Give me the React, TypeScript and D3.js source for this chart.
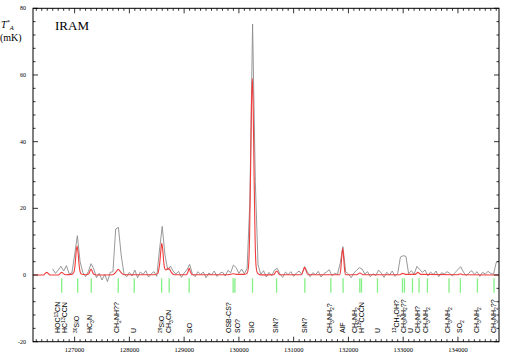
import * as d3 from "d3";

// observed spectrum (mK), one channel every 50 MHz from 126600 MHz
const grayStart = 126600;
const grayStep = 50;
const grayValues = [
  1.8, 0.5, 1.5, 2.6, 1.2, 2.8, 0.4, 0.6,
  6.0, 11.8, 4.0, 0.8, -0.5, 1.0, 3.4, 1.8, -0.8, 0.5, -1.5, 0.2, -2.0, 0.8, 1.0, 13.8, 14.3, 6.0, 0.5, -0.5,
  0.8, -0.3, 1.5, -0.8, 0.9, 0.2, 1.3, -0.6, 0.4, 1.0, -0.4, 7.5, 14.6, 6.0, 1.5, 2.7, 1.2, 0.3, 1.1, -0.7,
  0.6, 1.5, 3.2, 0.4, -0.5, 1.0, 0.2, 0.9, -0.8, 0.6, 0.1, 1.2, -0.4, 0.5, 0.9, -0.3, 1.4, 0.7, 3.0, 2.2,
  0.5, 1.8, 0.4, 2.0, 22.0, 75.3, 28.0, 3.0, 0.2, 1.3, -0.6, 0.8, -0.2, 1.5, 2.0, 0.3, -0.7, 0.9, 0.1, 1.0,
  -0.4, 0.6, 1.2, 0.2, 2.5, 1.0, -0.5, 0.7, 0.1, 1.1, -0.6, 0.4, 0.9, 1.6, -0.2, 0.5, 0.2, 3.5, 8.5, 1.0,
  0.3, -0.8, 0.6, 1.4, 2.2, 1.8, 0.3, 1.0, -0.5, 0.4, -0.2, 1.5, 0.6, -0.7, 0.8, 0.0, 1.2, -0.4, 0.5, 5.4,
  5.8, 5.6, 0.4, 1.3, 0.2, 2.6, 1.7, 0.8, 1.5, -0.3, 0.9, 0.1, 1.2, -0.5, 0.7, 0.3, 1.0, 0.5, -0.3, 0.8,
  1.6, 2.5, 0.9, -0.2, 0.6, 1.3, 0.2, 1.0, -0.4, 0.8, 0.3, 1.1, 0.5, 0.2, 3.8, 4.2,
];

// model spectrum (red), [MHz, mK]
const modelPoints: [number, number][] = [
  [126240, 0], [126430, 0], [126470, 0.6], [126490, 0.8], [126510, 0.6], [126550, 0],
  [126700, 0], [126740, 0.5], [126764, 0.8], [126790, 0.5], [126830, 0.1], [126950, 0.2],
  [126970, 0.4], [126990, 1.0], [127010, 3.3], [127027, 6.8], [127045, 8.7], [127063, 6.8],
  [127080, 3.3], [127100, 1.0], [127120, 0.3], [127200, 0.1],
  [127255, 0.3], [127280, 1.2], [127300, 1.8], [127320, 1.2], [127345, 0.3], [127400, 0],
  [127700, 0.1], [127750, 0.8], [127797, 1.7], [127845, 0.8], [127900, 0.1],
  [128450, 0.1], [128520, 0.5], [128540, 1.9], [128557, 4.0], [128575, 7.4], [128592, 9.5],
  [128610, 7.4], [128627, 4.0], [128645, 2.0], [128670, 1.5], [128700, 2.0], [128730, 1.8],
  [128770, 0.7], [128820, 0.1],
  [129040, 0.1], [129070, 0.9], [129092, 2.0], [129115, 0.9], [129150, 0.1],
  [129800, 0.1], [129900, 0.4], [129950, 0.2], [130100, 0.2],
  [130150, 0.6], [130175, 2.5], [130195, 11.5], [130215, 33], [130230, 51], [130245, 59],
  [130260, 51], [130275, 33], [130295, 11.5], [130315, 2.5], [130340, 0.6], [130400, 0.05],
  [130640, 0.1], [130670, 0.9], [130690, 1.2], [130710, 0.9], [130740, 0.1],
  [131140, 0.1], [131175, 1.4], [131200, 2.3], [131225, 1.4], [131260, 0.1],
  [131840, 0.1], [131860, 1.7], [131875, 4.8], [131895, 8.0], [131915, 4.8], [131930, 1.7], [131950, 0.1],
  [132150, 0.1], [132210, 0.6], [132270, 0.1],
  [132940, 0.1], [132990, 0.5], [133040, 0.2], [133220, 0.2], [133270, 0.8], [133320, 0.2],
  [134000, 0.1], [134045, 0.4], [134090, 0.1], [134750, 0],
];

// line identifications (green markers)
const lineFreqs = [
  126764, 127056, 127304, 127797, 128089, 128589, 128727, 129092, 129895, 129927,
  130249, 130688, 131204, 131679, 131903, 132208, 132239, 132531, 132987, 133024,
  133170, 133290, 133443, 133837, 134045, 134356, 134659,
];

const labelFreqs = [
  126696, 126824, 127043, 127280, 127773, 128083, 128594, 128713, 129105, 129817,
  129981, 130237, 130675, 131204, 131660, 131898, 132117, 132244, 132536, 132883,
  133002, 133139, 133257, 133412, 133814, 134033, 134343, 134653,
];
// _n = subscript, ^n = superscript
const labelTexts = [
  "HOC^13CN", "HC^13CCN", "^30SiO", "HC_3N", "CH_2NH??", "U", "^29SiO", "CH_3CN", "SO", "OSB-CS?",
  "SO?", "SiO", "SiN?", "SiN?", "CH_3NH_2?", "AlF", "CH_3NH_2", "H^13CCCN", "U", "^13CH_3OH?",
  "CH_3NH_2??", "U", "CH_2NH?", "CH_3NH_2", "CH_3NH_2", "SO_2", "CH_3NH_2", "CH_3NH_2??",
];

const xTickValues = [127000, 128000, 129000, 130000, 131000, 132000, 133000, 134000];
const yTickValues = [-20, 0, 20, 40, 60, 80];

const W = 509;
const H = 356;
const frame = { left: 33, right: 499, top: 8.3, bottom: 341.7 };
const serif = "'Liberation Serif', 'Times New Roman', serif";
const sans = "'Liberation Sans', Arial, sans-serif";

function RichLabel({ text, x, y }: { text: string; x: number; y: number }) {
  const tokens = text.split(/(\^\d+|_\d+)/).filter(Boolean);
  let shift = 0;
  return (
    <text transform={`translate(${x + 2.4},${y}) rotate(-90)`} fontSize={7} fontFamily={sans} fill="#000">
      {tokens.map((tok, i) => {
        let target = 0;
        let size = 7;
        let str = tok;
        if (tok[0] === "_") {
          target = 1.8;
          size = 5;
          str = tok.slice(1);
        } else if (tok[0] === "^") {
          target = -2.8;
          size = 5;
          str = tok.slice(1);
        }
        const dy = target - shift;
        shift = target;
        return (
          <tspan key={i} dy={dy} fontSize={size}>
            {str}
          </tspan>
        );
      })}
    </text>
  );
}

export default function App() {
  const x = d3.scaleLinear().domain([126240, 134750]).range([frame.left, frame.right]);
  const y = d3.scaleLinear().domain([-20, 80]).range([frame.bottom, frame.top]);

  const grayLine = d3
    .line<number>()
    .x((_, i) => x(grayStart + i * grayStep))
    .y((d) => y(d));

  const modelLine = d3
    .line<[number, number]>()
    .x((d) => x(d[0]))
    .y((d) => y(d[1]))
    .curve(d3.curveMonotoneX);

  const xMinor = d3.range(126300, 134750, 100);
  const yMinor = d3.range(-20, 81, 4);

  return (
    <svg width={W} height={H} style={{ position: "absolute", left: 0, top: 0, background: "#fff" }}>
      {/* spectra */}
      <path d={grayLine(grayValues) ?? ""} fill="none" stroke="#8c8c8c" strokeWidth={0.9} />
      <path d={modelLine(modelPoints) ?? ""} fill="none" stroke="#f03c3c" strokeWidth={1.1} />

      {/* line markers */}
      {lineFreqs.map((f, i) => (
        <line key={i} x1={x(f)} x2={x(f)} y1={y(-1)} y2={y(-5.3)} stroke="#86ef86" strokeWidth={1.3} />
      ))}
      {labelTexts.map((t, i) => (
        <RichLabel key={i} text={t} x={x(labelFreqs[i])} y={333} />
      ))}

      {/* frame */}
      <rect
        x={frame.left}
        y={frame.top}
        width={frame.right - frame.left}
        height={frame.bottom - frame.top}
        fill="none"
        stroke="#000"
        strokeWidth={1}
      />

      {/* x ticks, inward on top and bottom */}
      {xMinor.map((t) => {
        const major = t % 1000 === 0;
        const len = major ? 5 : 2.5;
        return (
          <g key={t} stroke="#000" strokeWidth={0.8}>
            <line x1={x(t)} x2={x(t)} y1={frame.bottom} y2={frame.bottom - len} />
            <line x1={x(t)} x2={x(t)} y1={frame.top} y2={frame.top + len} />
          </g>
        );
      })}
      {xTickValues.map((t) => (
        <text key={t} x={x(t)} y={352} textAnchor="middle" fontSize={6.5} fontFamily={serif}>
          {t}
        </text>
      ))}

      {/* y ticks, inward on left and right */}
      {yMinor.map((t) => {
        const major = t % 20 === 0;
        const len = major ? 5 : 2.5;
        return (
          <g key={t} stroke="#000" strokeWidth={0.8}>
            <line x1={frame.left} x2={frame.left + len} y1={y(t)} y2={y(t)} />
            <line x1={frame.right} x2={frame.right - len} y1={y(t)} y2={y(t)} />
          </g>
        );
      })}
      {yTickValues.map((t) => (
        <text key={t} x={26} y={y(t) + 2} textAnchor="end" fontSize={6} fontFamily={serif}>
          {t}
        </text>
      ))}

      {/* axis title */}
      <text x={1} y={28} fontSize={10} fontFamily={serif} fontStyle="italic">
        T<tspan dy={-4} fontSize={6.5}>*</tspan>
        <tspan dy={6} fontSize={6.5}>A</tspan>
      </text>
      <text x={0} y={41} fontSize={10} fontFamily={serif}>
        (mK)
      </text>

      <text x={55} y={30} fontSize={13} fontFamily={serif}>
        IRAM
      </text>
    </svg>
  );
}
